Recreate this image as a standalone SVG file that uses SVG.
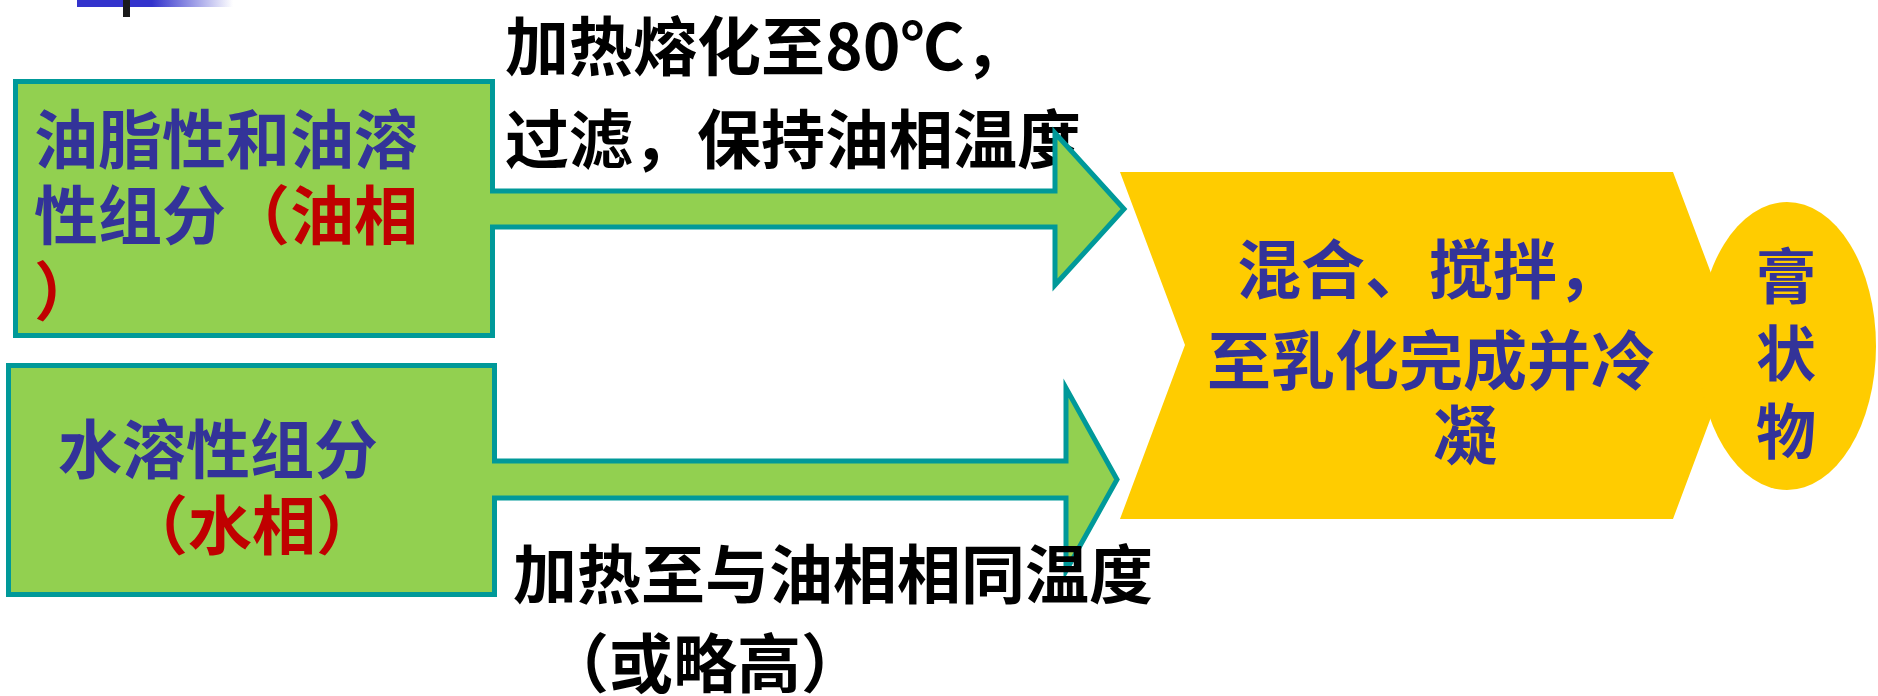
<svg xmlns="http://www.w3.org/2000/svg" width="1878" height="696" viewBox="0 0 1878 696">
  <defs>
    <linearGradient id="barGrad" x1="0" y1="0" x2="1" y2="0">
      <stop offset="0" stop-color="#3333CC"/>
      <stop offset="0.48" stop-color="#3333CC"/>
      <stop offset="1" stop-color="#3333CC" stop-opacity="0"/>
    </linearGradient>
  </defs>
  <style>
    text { font-family: "Noto Sans CJK SC", "Noto Sans", sans-serif; font-weight: bold; font-size: 64px; }
    .blue { fill: #333399; }
    .red { fill: #C00000; }
    .black { fill: #000000; }
    .box { fill: #92D050; stroke: #009999; stroke-width: 5; }
    .arrow { fill: #92D050; stroke: #009999; stroke-width: 5; stroke-miterlimit: 10; stroke-linecap: butt; }
    .gold { fill: #FFCC00; }
  </style>
  <rect width="1878" height="696" fill="#FFFFFF"/>

  <g id="title-decoration">
    <rect x="77" y="0" width="156" height="7" fill="url(#barGrad)"/>
    <rect x="123" y="0" width="7" height="17" fill="#1A1A1A"/>
  </g>

  <g id="label-oil">
    <text class="black" x="505" y="70">加热熔化至80℃，</text>
    <text class="black" x="505" y="163">过滤，保持油相温度</text>
  </g>

  <g id="oil-phase">
    <rect class="box" x="15.5" y="81.5" width="477" height="254"/>
    <text x="34" y="163" class="blue">油脂性和油溶</text>
    <text x="34" y="239"><tspan class="blue">性组分</tspan><tspan class="red">（油相</tspan></text>
    <text x="34" y="315" class="red">）</text>
  </g>

  <g id="water-phase">
    <rect class="box" x="8.5" y="365.5" width="486" height="229"/>
    <text x="58" y="473" class="blue">水溶性组分</text>
    <text x="124" y="549" class="red">（水相）</text>
  </g>

  <g id="connectors">
    <path class="arrow" d="M490,191 H1055 V133 L1124,209 L1055,285 V227 H490"/>
    <path class="arrow" d="M492,461 H1066 V388 L1117,479.5 L1066,571 V498 H492"/>
  </g>

  <g id="label-water">
    <text class="black" x="513" y="598">加热至与油相相同温度</text>
    <text class="black" x="545" y="687">（或略高）</text>
  </g>

  <g id="mixing">
    <polygon class="gold" points="1120,172 1673,172 1738,345 1673,519 1120,519 1185,345"/>
    <text x="1237" y="293" class="blue">混合、搅拌，</text>
    <text x="1207" y="384" class="blue">至乳化完成并冷</text>
    <text x="1433" y="459" class="blue">凝</text>
  </g>

  <g id="product">
    <ellipse class="gold" cx="1787" cy="346" rx="89" ry="144"/>
    <text x="1786" y="299" class="blue" text-anchor="middle" style="font-size:60px">膏</text>
    <text x="1786" y="376" class="blue" text-anchor="middle" style="font-size:60px">状</text>
    <text x="1786" y="454" class="blue" text-anchor="middle" style="font-size:60px">物</text>
  </g>
</svg>
